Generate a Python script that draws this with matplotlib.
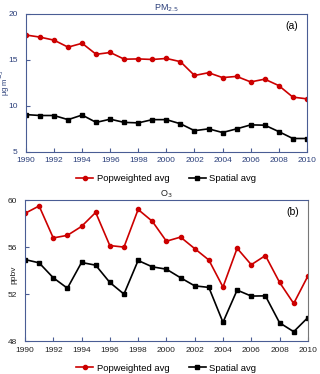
import matplotlib.pyplot as plt

plt.rcParams['font.family'] = ['Liberation Sans', 'DejaVu Sans']

years = list(range(1990, 2011))
pm_pop = [17.7, 17.47, 17.14, 16.38, 16.8, 15.6, 15.8, 15.07, 15.1, 15.04, 15.15,
          14.8, 13.3, 13.6, 13.07, 13.2, 12.6, 12.9, 12.2, 10.95, 10.76]
pm_spatial = [9.05, 8.95, 8.95, 8.5, 9.0, 8.2, 8.55, 8.2, 8.15, 8.5, 8.5,
              8.05, 7.3, 7.5, 7.1, 7.5, 7.93, 7.9, 7.2, 6.45, 6.45]
o3_pop = [58.87, 59.5, 56.78, 57.0, 57.76, 58.95, 56.13, 56.0, 59.2, 58.2, 56.5,
          56.85, 55.87, 54.9, 52.6, 55.9, 54.5, 55.28, 53.0, 51.2, 53.53]
o3_spatial = [54.94, 54.66, 53.39, 52.5, 54.69, 54.46, 52.99, 52.0, 54.86, 54.32, 54.12,
              53.39, 52.7, 52.57, 49.6, 52.34, 51.83, 51.85, 49.56, 48.8, 50.0]

red = '#cc0000'
navy = '#2b3f7a'
spine_blue = '#4a5d94'

fig = plt.figure(figsize=(3.2, 3.74), dpi=100)
ax1 = fig.add_axes([0.081, 0.594, 0.878, 0.369])
ax2 = fig.add_axes([0.078, 0.088, 0.884, 0.377])

def style(ax, lab_color, right_color):
    for s in ['left', 'top', 'bottom']:
        ax.spines[s].set_color(spine_blue)
    ax.spines['right'].set_color(right_color)
    ax.tick_params(direction='in', length=3, width=0.8, labelsize=6,
                   labelcolor=lab_color, color=spine_blue)
    ax.tick_params(axis='y', pad=6)
    ax.tick_params(axis='x', pad=4)
    ax.set_xlim(1990, 2010)
    ax.set_xticks(range(1990, 2011, 2))

def add_legend(ax):
    ax.legend(loc='upper center', bbox_to_anchor=(0.5, -0.1), ncol=2, frameon=False,
              fontsize=6.8, handlelength=1.8, handletextpad=0.4, columnspacing=2.0)

# PM2.5
ax1.plot(years, pm_pop, '-o', color=red, lw=1.2, ms=3, label='Popweighted avg')
ax1.plot(years, pm_spatial, '-s', color='black', lw=1.2, ms=3, label='Spatial avg')
ax1.set_ylim(5, 20)
ax1.set_yticks([5, 10, 15, 20])
style(ax1, navy, spine_blue)
ax1.set_title('PM$_{2.5}$', fontsize=6.5, color=navy, pad=2)
ax1.set_ylabel('μg m$^{-3}$', fontsize=5.5, color=navy)
ax1.yaxis.set_label_coords(-0.048, 0.5)
ax1.text(0.968, 0.913, '(a)', transform=ax1.transAxes, ha='right', va='center', fontsize=7.5)
add_legend(ax1)

# O3
ax2.plot(years, o3_pop, '-o', color=red, lw=1.2, ms=3, label='Popweighted avg')
ax2.plot(years, o3_spatial, '-s', color='black', lw=1.2, ms=3, label='Spatial avg')
ax2.set_ylim(48, 60)
ax2.set_yticks([48, 52, 56, 60])
style(ax2, '#222222', '#777777')
ax2.set_title('O$_3$', fontsize=6.5, color='#222222', pad=2)
ax2.set_ylabel('ppbv', fontsize=6, color='#222222')
ax2.yaxis.set_label_coords(-0.028, 0.47)
ax2.text(0.968, 0.915, '(b)', transform=ax2.transAxes, ha='right', va='center', fontsize=7.5)
add_legend(ax2)

fig.savefig('out.png', dpi=100)
